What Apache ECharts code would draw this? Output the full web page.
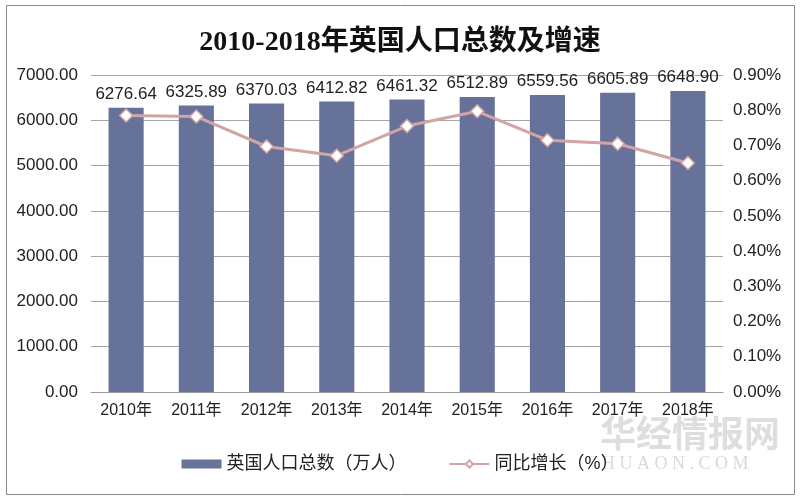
<!DOCTYPE html>
<html><head><meta charset="utf-8">
<script src="https://cdn.jsdelivr.net/npm/echarts@6/dist/echarts.min.js"></script>
<style>html,body{margin:0;padding:0;background:#fff}#c{width:800px;height:500px}</style>
</head><body><div id="c"></div>
<script>
var categories = ['2010年','2011年','2012年','2013年','2014年','2015年','2016年','2017年','2018年'];
var population = [6276.64,6325.89,6370.03,6412.82,6461.32,6512.89,6559.56,6605.89,6648.90];
var growth = [0.785,0.782,0.697,0.671,0.755,0.797,0.715,0.705,0.650];
var chart = echarts.init(document.getElementById('c'));
var font = '"Liberation Sans", Arial, "Noto Sans CJK SC", sans-serif';
chart.setOption({
  animation: false,
  title: {
    text: '2010-2018年英国人口总数及增速', left: 'center', top: 24,
    textStyle: {fontFamily: '"Liberation Serif", "Noto Sans CJK SC", serif', fontWeight: 'bold', fontSize: 28, color: '#111'}
  },
  graphic: [
    {type: 'rect', shape: {x: 6.5, y: 5.5, width: 788, height: 489}, style: {fill: 'none', stroke: '#8a8a8a', lineWidth: 1}, silent: true},
    {type: 'text', left: 600, top: 415, style: {text: '华经情报网', font: 'bold 36px "Noto Sans CJK SC"', fill: 'rgba(160,160,160,0.35)'}, silent: true},
    {type: 'text', left: 602, top: 455, style: {text: 'H U A O N . C O M', font: '18px "Liberation Serif"', fill: 'rgba(160,160,160,0.4)'}, silent: true}
  ],
  legend: {
    bottom: 22, left: 'center', itemGap: 42, itemWidth: 40, itemHeight: 9,
    textStyle: {fontFamily: font, fontSize: 18, color: '#222'},
    data: [{name: '英国人口总数（万人）', icon: 'rect'}, {name: '同比增长（%）'}]
  },
  grid: {left: 91, right: 77, top: 75, bottom: 108, containLabel: false},
  xAxis: {
    type: 'category', data: categories,
    axisLine: {lineStyle: {color: '#999'}}, axisTick: {show: false},
    axisLabel: {fontFamily: font, fontSize: 16, color: '#222', margin: 11, interval: 0}
  },
  yAxis: [
    {type: 'value', min: 0, max: 7000, interval: 1000,
     axisLine: {show: false}, axisTick: {show: false},
     splitLine: {lineStyle: {color: '#a6a6a6'}},
     axisLabel: {fontFamily: font, fontSize: 17, color: '#222', margin: 13, formatter: function(v){return v.toFixed(2);}}},
    {type: 'value', min: 0, max: 0.9, interval: 0.1,
     axisLine: {show: false}, axisTick: {show: false}, splitLine: {show: false},
     axisLabel: {fontFamily: font, fontSize: 17, color: '#222', margin: 10, formatter: function(v){return v.toFixed(2) + '%';}}}
  ],
  series: [
    {name: '英国人口总数（万人）', type: 'bar', data: population, barWidth: '50%',
     itemStyle: {color: '#67729b'},
     label: {show: true, position: 'top', distance: 5, fontFamily: font, fontSize: 17, color: '#222',
             formatter: function(p){return p.value.toFixed(2);}}},
    {name: '同比增长（%）', type: 'line', yAxisIndex: 1, data: growth,
     symbol: 'diamond', symbolSize: 13,
     lineStyle: {color: '#d3a4a6', width: 3},
     itemStyle: {color: '#ffffff', borderColor: '#d3a4a6', borderWidth: 1.5}}
  ]
});
</script></body></html>
